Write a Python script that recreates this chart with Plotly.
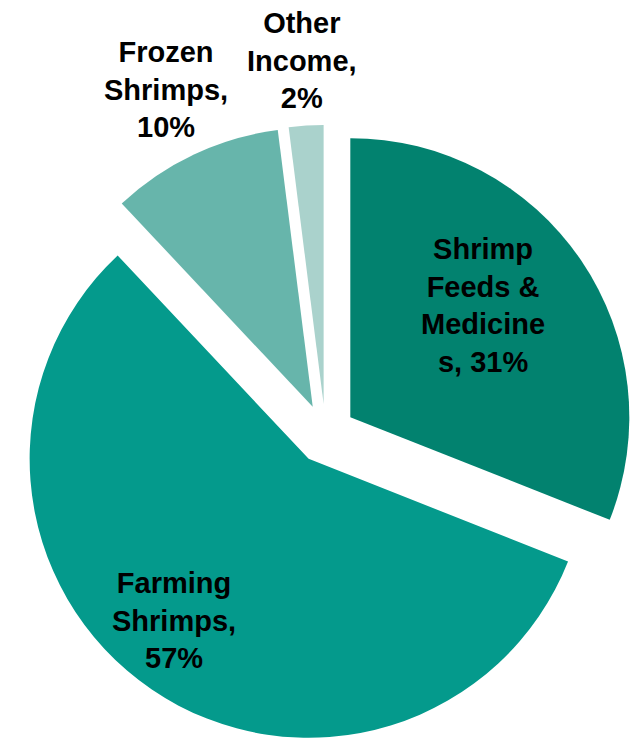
import math
import plotly.graph_objects as go

# Data
categories = ["Shrimp Feeds & Medicines", "Farming Shrimps", "Frozen Shrimps", "Other Income"]
values = [31, 57, 10, 2]
label_lines = [["Shrimp", "Feeds &", "Medicine", "s, {v}%"],
               ["Farming", "Shrimps,", "{v}%"],
               ["Frozen", "Shrimps,", "{v}%"],
               ["Other", "Income,", "{v}%"]]
colors = ["#02826F", "#049A8C", "#67B5AB", "#AAD2CC"]

# Layout geometry (pixels)
W, H = 641, 738
CX, CY = 325.5, 434.0      # un-exploded pie centre
R = 279.0                  # pie radius
EXPLODE = 30.0             # explosion distance of every slice
label_pos = [(483, 305), (174, 620), (166, 89), (302, 60)]

total = float(sum(values))
fig = go.Figure()
cum = 0.0
for i, v in enumerate(values):
    # bisector angle, clockwise from 12 o'clock
    mid = (cum + v / 2.0) / total * 2 * math.pi
    cum += v
    sx = CX + EXPLODE * math.sin(mid)
    sy = CY - EXPLODE * math.cos(mid)
    dx = [max(0.0, (sx - R) / W), min(1.0, (sx + R) / W)]
    dy = [max(0.0, 1 - (sy + R) / H), min(1.0, 1 - (sy - R) / H)]
    slice_colors = [c if j == i else "rgba(0,0,0,0)" for j, c in enumerate(colors)]
    fig.add_trace(go.Pie(
        labels=categories,
        values=values,
        sort=False,
        direction="clockwise",
        rotation=0,
        marker=dict(colors=slice_colors, line=dict(width=0)),
        textinfo="none",
        hoverinfo="skip",
        showlegend=False,
        domain=dict(x=dx, y=dy),
    ))

for lines, v, (px, py) in zip(label_lines, values, label_pos):
    txt = "<br>".join(l.format(v=v) for l in lines)
    fig.add_annotation(
        x=px / W, y=1 - py / H, xref="paper", yref="paper",
        text="<b>" + txt + "</b>", showarrow=False,
        xanchor="center", yanchor="middle", align="center",
        font=dict(family="Liberation Sans, Arial, sans-serif", size=29, color="#000000"),
    )

fig.update_layout(
    width=W, height=H,
    margin=dict(l=0, r=0, t=0, b=0),
    paper_bgcolor="white", plot_bgcolor="white",
)

fig.write_html("out.html")
